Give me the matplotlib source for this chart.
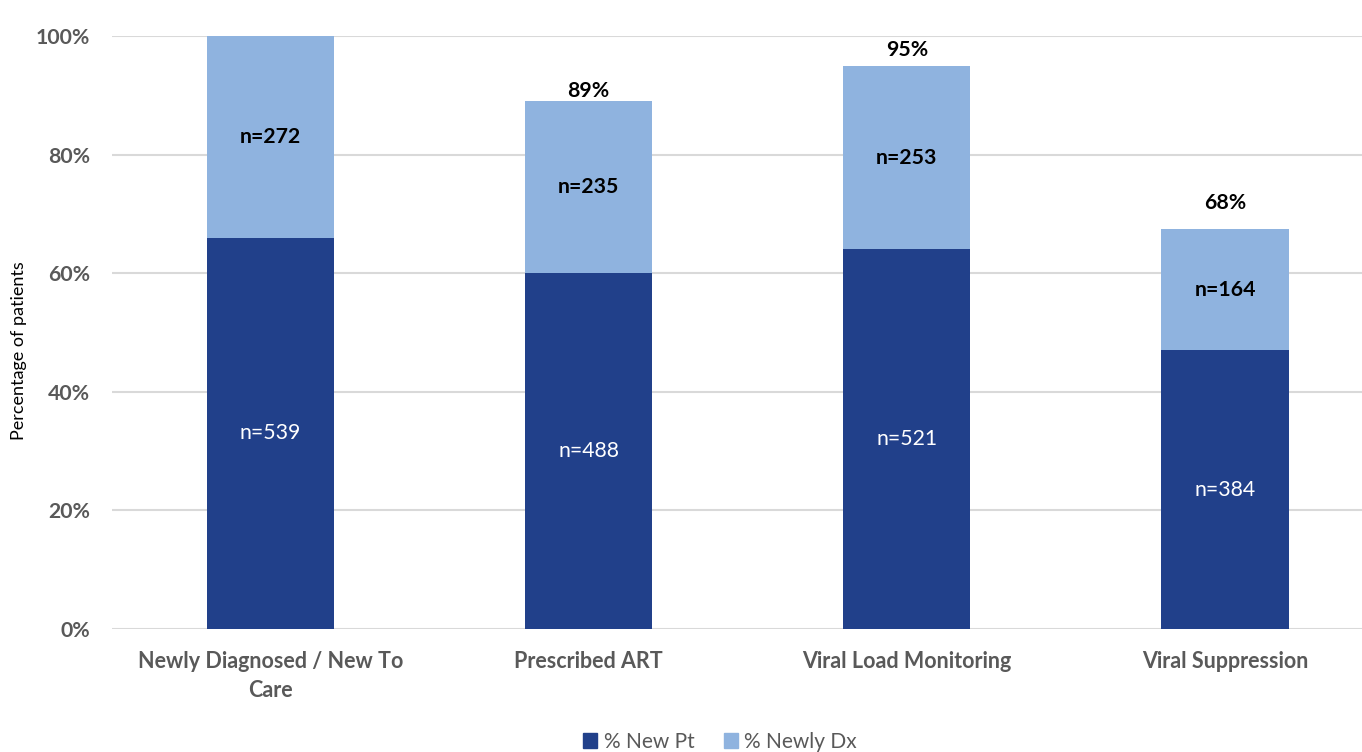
import matplotlib
matplotlib.use("Agg")
import matplotlib.pyplot as plt
from matplotlib.patches import Patch

# Care cascade data (percent of patients)
categories = ["Newly Diagnosed / New To\nCare", "Prescribed ART",
              "Viral Load Monitoring", "Viral Suppression"]
pct_new_pt = [66, 60, 64, 47]
pct_newly_dx = [34, 29, 31, 20.5]
n_new_pt = [539, 488, 521, 384]
n_newly_dx = [272, 235, 253, 164]
show_total = [False, True, True, True]
total_label_gap = [0, 1.7, 2.6, 4.4]

dark = "#21408A"
light = "#8FB3DF"
grey_text = "#595959"
font = ["Lato", "DejaVu Sans"]

plt.rcParams["font.family"] = font

fig = plt.figure(figsize=(13.62, 7.52), dpi=100)
ax = fig.add_axes([112 / 1362, 1 - 629 / 752, 1 - 112 / 1362, (629 - 36) / 752])

x = list(range(len(categories)))
width = 0.4
ax.bar(x, pct_new_pt, width, color=dark, zorder=3, label="% New Pt")
ax.bar(x, pct_newly_dx, width, bottom=pct_new_pt, color=light, zorder=3,
       label="% Newly Dx")

for i in x:
    ax.text(i, pct_new_pt[i] / 2, f"n={n_new_pt[i]}", ha="center", va="center",
            color="white", fontsize=15.3, zorder=4)
    ax.text(i, pct_new_pt[i] + pct_newly_dx[i] / 2, f"n={n_newly_dx[i]}",
            ha="center", va="center", color="black", fontsize=15.3,
            fontweight="bold", zorder=4)
    total = pct_new_pt[i] + pct_newly_dx[i]
    if show_total[i]:
        ax.text(i, total + total_label_gap[i], f"{total:.0f}%", ha="center",
                va="center", color="black", fontsize=15.3, fontweight="bold",
                zorder=4)

ax.set_ylim(0, 100)
ax.set_xlim(-0.497, 3.43)
ax.set_yticks([0, 20, 40, 60, 80, 100])
ax.set_yticklabels([f"{v}%" for v in [0, 20, 40, 60, 80, 100]])
ax.set_xticks(x)
ax.set_xticklabels(categories, linespacing=1.45)
ax.tick_params(axis="y", length=0, pad=16, labelsize=15.3, labelcolor=grey_text)
ax.tick_params(axis="x", length=0, pad=16, labelsize=15.5, labelcolor=grey_text)
for lab in ax.get_xticklabels() + ax.get_yticklabels():
    lab.set_fontweight("bold")

ax.yaxis.grid(True, color="#D9D9D9", linewidth=1.5, zorder=0)
ax.set_axisbelow(True)
for s in ax.spines.values():
    s.set_visible(False)

ax.set_ylabel("Percentage of patients", fontsize=13, color="black")
ax.yaxis.set_label_coords(-0.068, 0.469)

handles = [Patch(color=dark, label="% New Pt"), Patch(color=light, label="% Newly Dx")]
leg = fig.legend(handles=handles, loc="center", ncol=2, frameon=False,
                 bbox_to_anchor=(720 / 1362, 1 - 742 / 752), fontsize=15,
                 handlelength=0.7, handleheight=0.7, handletextpad=0.3,
                 columnspacing=1.4)
for t in leg.get_texts():
    t.set_color(grey_text)

fig.savefig("out.png", dpi=100)
